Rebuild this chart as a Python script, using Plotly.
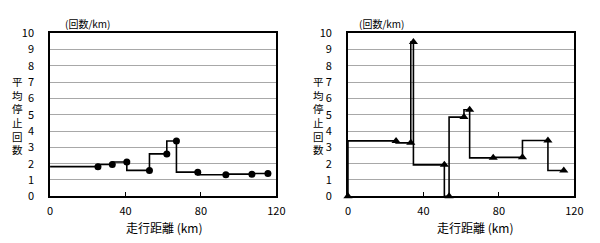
import plotly.graph_objects as go

# ---- data ----
left_start = [0, 1.82]
left_km = [25.4, 33.0, 40.7, 52.7, 61.9, 67.0, 78.3, 93.2, 107.0, 115.5]
left_rate = [1.82, 1.95, 2.10, 1.59, 2.60, 3.39, 1.48, 1.32, 1.36, 1.40]

right_km = [0, 25.5, 33.3, 34.7, 51.1, 53.6, 61.5, 64.5, 77.0, 92.5, 106.0, 114.4]
right_rate = [0, 3.40, 3.28, 9.46, 1.93, 0, 4.86, 5.31, 2.36, 2.39, 3.42, 1.58]

x_ticks = [0, 40, 80, 120]
y_ticks = list(range(0, 11))
y_title_chars = list("平均停止回数")
unit_label = "(回数/km)"
x_title = "走行距離 (km)"

FONT = "Noto Sans CJK JP"
W, H = 600, 243

fig = go.Figure()

# left chart
fig.add_trace(go.Scatter(
    x=[left_start[0]] + left_km, y=[left_start[1]] + left_rate,
    mode="lines", line=dict(color="black", width=1.6, shape="vh"),
    xaxis="x", yaxis="y", showlegend=False, hoverinfo="skip"))
fig.add_trace(go.Scatter(
    x=left_km, y=left_rate, mode="markers",
    marker=dict(symbol="circle", size=7, color="black"),
    xaxis="x", yaxis="y", showlegend=False))

# right chart
fig.add_trace(go.Scatter(
    x=right_km, y=right_rate, mode="lines+markers",
    line=dict(color="black", width=1.6, shape="vh"),
    marker=dict(symbol="triangle-up", size=8, color="black"),
    xaxis="x2", yaxis="y2", showlegend=False, cliponaxis=False))

dom_left = [48 / W, 279 / W]
dom_right = [352 / W, 583 / W]
dom_y = [1 - 200.5 / H, 1 - 26 / H]

def xaxis(domain, anchor):
    return dict(domain=domain, anchor=anchor, range=[0, 120], tickvals=x_ticks,
                ticks="inside", ticklen=4, tickwidth=1, tickcolor="black",
                showline=True, linecolor="black", linewidth=1.6, mirror=True,
                showgrid=False, zeroline=False, ticklabelstandoff=4,
                tickfont=dict(family=FONT, size=11, color="black"), fixedrange=True)

def yaxis(anchor):
    return dict(domain=dom_y, anchor=anchor, range=[0, 10], tickvals=y_ticks,
                ticks="", showline=True, linecolor="black", linewidth=1.6, mirror=True,
                showgrid=True, gridcolor="#a8a8a8", gridwidth=1, zeroline=False,
                ticklabelstandoff=12,
                tickfont=dict(family=FONT, size=11, color="black"), fixedrange=True)

annotations = []
for cx, title_x, unit_x in [(15, 165, 86), (322, 482, 386)]:
    annotations.append(dict(text="<br>".join(y_title_chars), x=cx / W, y=1 - 113.5 / H,
                            xref="paper", yref="paper", showarrow=False,
                            xanchor="center", yanchor="middle", borderpad=0,
                            font=dict(family=FONT, size=10.5, color="black")))
    annotations.append(dict(text=unit_label, x=unit_x / W, y=1 - 15 / H, xref="paper", yref="paper",
                            showarrow=False, xanchor="center", yanchor="middle",
                            font=dict(family=FONT, size=10, color="black")))
    annotations.append(dict(text=x_title, x=title_x / W, y=1 - 234 / H, xref="paper", yref="paper",
                            showarrow=False, xanchor="center", yanchor="middle", borderpad=0,
                            font=dict(family=FONT, size=12, color="black")))

fig.update_layout(
    width=W, height=H, margin=dict(l=0, r=0, t=0, b=0),
    paper_bgcolor="white", plot_bgcolor="white",
    xaxis=xaxis(dom_left, "y"), yaxis=yaxis("x"),
    xaxis2=xaxis(dom_right, "y2"), yaxis2=yaxis("x2"),
    annotations=annotations, showlegend=False,
)

fig.write_html("out.html", config={"displayModeBar": False})
